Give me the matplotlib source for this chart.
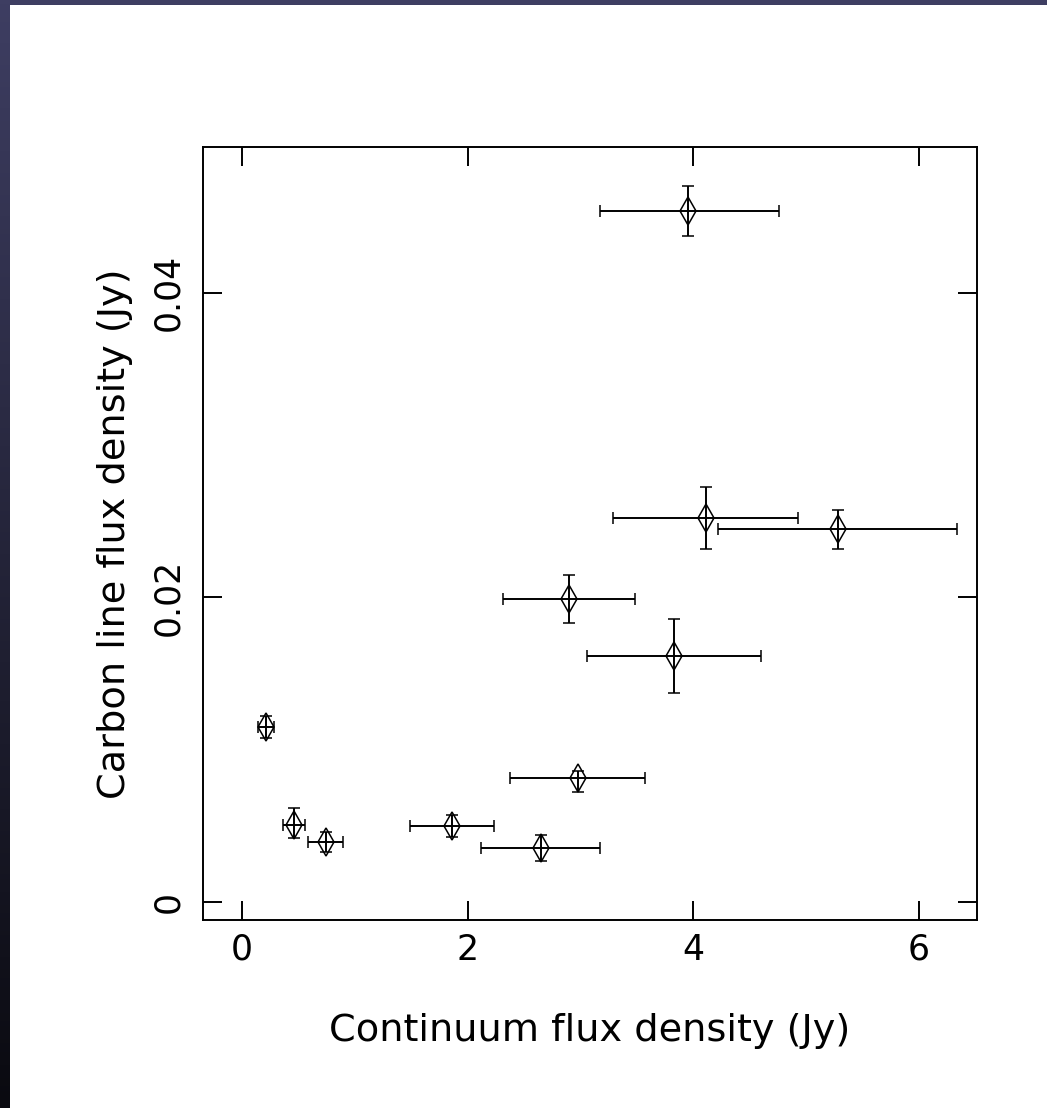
import numpy as np
import matplotlib
matplotlib.use("Agg")
import matplotlib.pyplot as plt
from matplotlib.patches import Rectangle

# Data
cont_flux = [0.213, 0.461, 0.744, 1.858, 2.650, 2.980, 2.898, 3.831, 4.109, 5.284, 3.955]
cont_lo = [0.144, 0.366, 0.588, 1.489, 2.115, 2.375, 2.310, 3.060, 3.285, 4.221, 3.172]
cont_hi = [0.284, 0.558, 0.898, 2.236, 3.172, 3.571, 3.482, 4.596, 4.930, 6.333, 4.758]
line_flux = [0.01149, 0.00504, 0.00394, 0.00497, 0.00351, 0.00810, 0.01990, 0.01614, 0.02518, 0.02446, 0.04537]
line_lo = [0.01073, 0.00420, 0.00328, 0.00427, 0.00267, 0.00722, 0.01833, 0.01373, 0.02317, 0.02317, 0.04372]
line_hi = [0.01220, 0.00613, 0.00456, 0.00569, 0.00438, 0.00858, 0.02148, 0.01857, 0.02726, 0.02573, 0.04703]

x_ticks = [0, 2, 4, 6]
x_ticklabels = ["0", "2", "4", "6"]
y_ticks = [0, 0.02, 0.04]
y_ticklabels = ["0", "0.02", "0.04"]

W, H = 1047, 1108
fig = plt.figure(figsize=(W / 100, H / 100), dpi=100)
fig.patch.set_facecolor("white")

# background frame (dark gradient strip on left and top)
bg = fig.add_axes([0, 0, 1, 1], zorder=-10)
top_c = np.array([62, 62, 98]) / 255
bot_c = np.array([10, 10, 16]) / 255
t = np.linspace(0, 1, 256)[:, None]
grad = (top_c[None, :] * (1 - t) + bot_c[None, :] * t)[:, None, :]
bg.imshow(grad, extent=[0, W, H, 0], aspect="auto")
bg.add_patch(Rectangle((10, 5), W - 10, H - 5, facecolor="white", edgecolor="none"))
bg.set_xlim(0, W)
bg.set_ylim(H, 0)
bg.axis("off")

ax = fig.add_axes([203 / W, 1 - 920 / H, 774 / W, 773 / H])
ax.set_facecolor("white")

x = np.array(cont_flux)
y = np.array(line_flux)
xerr = np.vstack([x - np.array(cont_lo), np.array(cont_hi) - x])
yerr = np.vstack([y - np.array(line_lo), np.array(line_hi) - y])

ax.errorbar(x, y, xerr=xerr, yerr=yerr, fmt="d", color="black",
            mfc="none", mec="black", mew=1.1, ms=14,
            elinewidth=1.4, capsize=4.5, capthick=1.4)

ax.set_xlim(-0.3456, 6.513)
ax.set_ylim(-0.0012, 0.04957)
ax.set_xticks(x_ticks)
ax.set_xticklabels(x_ticklabels)
ax.set_yticks(y_ticks)
ax.set_yticklabels(y_ticklabels, rotation=90, va="center")
ax.minorticks_off()
ax.tick_params(direction="in", length=14, width=1.4, top=True, right=True,
               labelsize=25, color="black")
ax.tick_params(axis="x", pad=9)
ax.tick_params(axis="y", pad=13)
for s in ax.spines.values():
    s.set_linewidth(1.4)

ax.set_xlabel("Continuum flux density (Jy)", fontsize=27.5, va="center")
ax.set_ylabel("Carbon line flux density (Jy)", fontsize=27.5, va="center")
ax.xaxis.set_label_coords(0.5, (920 - 1031) / 773)
ax.yaxis.set_label_coords((115 - 203) / 774, 0.5)

fig.savefig("out.png", dpi=100)
